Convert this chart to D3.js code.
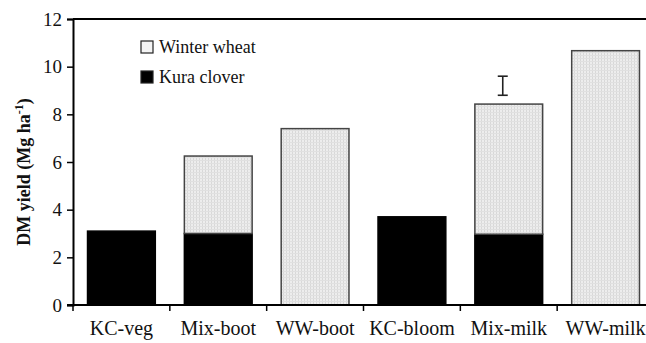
<!DOCTYPE html>
<html>
<head>
<meta charset="utf-8">
<script src="https://cdn.jsdelivr.net/npm/d3@7"></script>
<style>
  body { margin: 0; background: #fff; }
  svg { display: block; }
  svg text { font-family: "Liberation Serif", "Times New Roman", "DejaVu Serif", serif; }
</style>
</head>
<body>
<div id="chart"></div>
<script>
const categories = ["KC-veg", "Mix-boot", "WW-boot", "KC-bloom", "Mix-milk", "WW-milk"];
const kuraClover = [3.1, 3.0, 0, 3.7, 2.97, 0];
const winterWheat = [0, 3.25, 7.4, 0, 5.46, 10.67];
const yTicks = [0, 2, 4, 6, 8, 10, 12];
const lsdBar = {category: "Mix-milk", low: 8.8, high: 9.6};

const width = 646;
const height = 343;
const margin = {top: 19, right: -8, bottom: 38, left: 73};
const innerWidth = width - margin.left - margin.right;
const innerHeight = height - margin.top - margin.bottom;

const svg = d3.select("#chart")
  .append("svg")
    .attr("width", width)
    .attr("height", height);

// Pattern for the winter wheat fill
const defs = svg.append("defs");
const pattern = defs.append("pattern")
    .attr("id", "dots")
    .attr("width", 3)
    .attr("height", 3)
    .attr("patternUnits", "userSpaceOnUse");
pattern.append("rect")
    .attr("width", 3).attr("height", 3)
    .attr("fill", "#ededed");
pattern.append("rect")
    .attr("width", 1).attr("height", 3)
    .attr("fill", "#d8d8d8");
pattern.append("rect")
    .attr("width", 3).attr("height", 1)
    .attr("fill", "#e0e0e0");

const innerChart = svg
  .append("g")
    .attr("transform", `translate(${margin.left}, ${margin.top})`);

// Scales
const padding = 0.3;
const xScale = d3.scaleBand()
  .domain(categories)
  .range([0, innerWidth])
  .paddingInner(padding)
  .paddingOuter(padding / 2);

const yScale = d3.scaleLinear()
  .domain([0, 12])
  .range([innerHeight, 0]);

// Stacked data
const data = categories.map((c, i) => ({category: c, kura: kuraClover[i], wheat: winterWheat[i]}));
const stacked = d3.stack().keys(["kura", "wheat"])(data);
const fills = {kura: "#000", wheat: "url(#dots)"};
const strokes = {kura: "#000", wheat: "#444"};

innerChart.selectAll(".series")
  .data(stacked)
  .join("g")
    .attr("class", "series")
  .selectAll("rect")
  .data(s => s.filter(d => d[1] - d[0] > 0).map(d => ({key: s.key, d: d})))
  .join("rect")
    .attr("x", p => xScale(p.d.data.category))
    .attr("y", p => yScale(p.d[1]))
    .attr("width", xScale.bandwidth())
    .attr("height", p => yScale(p.d[0]) - yScale(p.d[1]))
    .attr("fill", p => fills[p.key])
    .attr("stroke", p => strokes[p.key])
    .attr("stroke-width", 1.5);

// LSD error bar
const ex = xScale(lsdBar.category) + xScale.bandwidth() / 2 - 6;
const lsd = innerChart.append("g")
    .attr("stroke", "#222")
    .attr("stroke-width", 1.6);
lsd.append("line")
    .attr("x1", ex).attr("x2", ex)
    .attr("y1", yScale(lsdBar.low)).attr("y2", yScale(lsdBar.high));
[lsdBar.low, lsdBar.high].forEach(v => {
  lsd.append("line")
      .attr("x1", ex - 5).attr("x2", ex + 5)
      .attr("y1", yScale(v)).attr("y2", yScale(v));
});

// Top border
innerChart.append("line")
    .attr("x1", 0).attr("x2", innerWidth)
    .attr("y1", 0).attr("y2", 0)
    .attr("stroke", "#000")
    .attr("stroke-width", 2);

// Y axis
const leftAxis = d3.axisLeft(yScale)
  .tickValues(yTicks)
  .tickSize(6)
  .tickPadding(5);
const yAxis = innerChart.append("g")
    .attr("class", "axis-y")
    .call(leftAxis)
    .attr("font-family", null);
yAxis.selectAll("text")
    .attr("font-size", 19)
    .attr("fill", "#111");
yAxis.selectAll("line").attr("stroke-width", 1.5);
yAxis.select(".domain").attr("stroke-width", 2);

// X axis: tick marks at category boundaries
const step = xScale.step();
const xAxis = innerChart.append("g")
    .attr("class", "axis-x")
    .attr("transform", `translate(0, ${innerHeight})`);
xAxis.append("line")
    .attr("x1", -6).attr("x2", innerWidth)
    .attr("stroke", "#000")
    .attr("stroke-width", 2);
xAxis.selectAll(".tick-mark")
  .data(categories)
  .join("line")
    .attr("class", "tick-mark")
    .attr("x1", d => xScale(d) - step * padding / 2)
    .attr("x2", d => xScale(d) - step * padding / 2)
    .attr("y1", 0).attr("y2", 6)
    .attr("stroke", "#000")
    .attr("stroke-width", 1.5);
xAxis.selectAll(".cat-label")
  .data(categories)
  .join("text")
    .attr("class", "cat-label")
    .attr("x", d => xScale(d) + xScale.bandwidth() / 2)
    .attr("y", 30)
    .attr("text-anchor", "middle")
    .attr("font-size", 20)
    .attr("fill", "#111")
    .text(d => d);

// Y title
const yTitle = svg.append("text")
    .attr("transform", `translate(30, 172) rotate(-90)`)
    .attr("text-anchor", "middle")
    .attr("font-size", 18)
    .attr("font-weight", "bold")
    .attr("fill", "#111");
yTitle.append("tspan").text("DM yield (Mg ha");
yTitle.append("tspan").attr("dy", -7).attr("font-size", 12).text("-1");
yTitle.append("tspan").attr("dy", 7).text(")");

// Legend
const legendItems = [
  {label: "Winter wheat", key: "wheat"},
  {label: "Kura clover", key: "kura"}
];
const legend = svg.append("g")
    .attr("transform", "translate(141, 41)");
const items = legend.selectAll("g")
  .data(legendItems)
  .join("g")
    .attr("transform", (d, i) => `translate(0, ${i * 30})`);
items.append("rect")
    .attr("width", 12).attr("height", 12)
    .attr("fill", d => d.key === "kura" ? "#000" : "#f4f4f4")
    .attr("stroke", "#222")
    .attr("stroke-width", 1.2);
items.append("text")
    .attr("x", 18)
    .attr("y", 12)
    .attr("font-size", 18)
    .attr("fill", "#111")
    .text(d => d.label);
</script>
</body>
</html>
